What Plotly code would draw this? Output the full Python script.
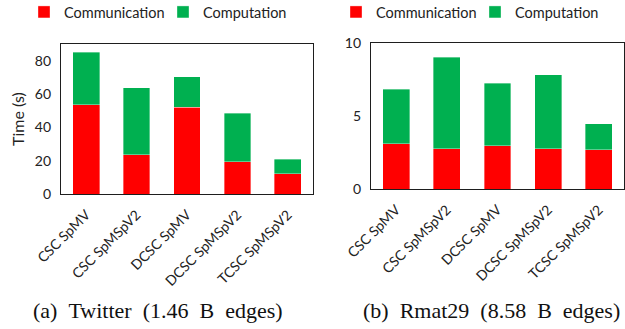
import plotly.graph_objects as go

# Stacked run-time breakdown (seconds) for the two graphs
categories = ["CSC SpMV", "CSC SpMSpV2", "DCSC SpMV", "DCSC SpMSpV2", "TCSC SpMSpV2"]

twitter_comm = [53.6, 23.5, 52.2, 19.3, 12.2]
twitter_comp = [31.4, 40.2, 18.1, 29.1, 8.7]

rmat_comm = [3.09, 2.77, 2.97, 2.77, 2.68]
rmat_comp = [3.77, 6.27, 4.28, 5.08, 1.80]

twitter_ticks = [0, 20, 40, 60, 80]
rmat_ticks = [0, 5, 10]

captions = ["(a)\u2002Twitter\u2002(1.46\u2002B\u2002edges)",
            "(b)\u2002Rmat29\u2002(8.58\u2002B\u2002edges)"]

RED = "#FF0000"
GREEN = "#00B050"
SANS = "Lato, 'Open Sans', sans-serif"
SERIF = "'Liberation Serif', 'Times New Roman', serif"

W, H = 625, 329


def px(x):
    return x / W


def py(y):
    return 1 - y / H


fig = go.Figure()

panels = [
    (twitter_comm, twitter_comp, "x", "y", "legend"),
    (rmat_comm, rmat_comp, "x2", "y2", "legend2"),
]
for comm, comp, xa, ya, lg in panels:
    fig.add_trace(go.Bar(x=categories, y=comm, name="Communication",
                         marker=dict(color=RED, line=dict(color="rgba(255,255,255,0.6)", width=0.6)),
                         xaxis=xa, yaxis=ya, legend=lg))
    fig.add_trace(go.Bar(x=categories, y=comp, name="Computation",
                         marker=dict(color=GREEN, line=dict(color="rgba(255,255,255,0.6)", width=0.6)),
                         xaxis=xa, yaxis=ya, legend=lg))

axis_common = dict(showline=True, mirror=True, linecolor="#1e1e1e", linewidth=1.3,
                   showgrid=False, zeroline=False, ticks="", automargin=False,
                   tickfont=dict(family=SANS, size=14, color="#222"))

legend_common = dict(orientation="h", xanchor="left", yanchor="middle",
                     font=dict(family=SANS, size=14.5, color="#222"), itemwidth=30,
                     traceorder="normal", bgcolor="rgba(0,0,0,0)",
                     entrywidth=94, entrywidthmode="pixels")

fig.update_layout(
    width=W, height=H,
    margin=dict(l=0, r=0, t=0, b=0, autoexpand=False),
    paper_bgcolor="white", plot_bgcolor="white",
    barmode="stack", bargap=0.47,
    xaxis=dict(domain=[px(61), px(313)], anchor="y", tickangle=-45,
               ticklabelstandoff=6, **axis_common),
    yaxis=dict(domain=[py(194), py(44)], anchor="x", range=[0, 90],
               tickvals=twitter_ticks, ticklabelstandoff=6,
               title=dict(text="Time (s)", font=dict(family=SANS, size=16, color="#222"), standoff=6),
               **axis_common),
    xaxis2=dict(domain=[px(371), px(624)], anchor="y2", tickangle=-45,
                ticklabelstandoff=6, **axis_common),
    yaxis2=dict(domain=[py(189), py(43.3)], anchor="x2", range=[0, 10],
                tickvals=rmat_ticks, ticklabelstandoff=6, **axis_common),
    legend=dict(x=px(24), y=py(12), **legend_common),
    legend2=dict(x=px(336), y=py(12), **legend_common),
    showlegend=True,
)

for text, cx in zip(captions, [157.5, 491.5]):
    fig.add_annotation(text=text, x=px(cx), y=py(310), xref="paper", yref="paper",
                       xanchor="center", yanchor="middle", showarrow=False,
                       font=dict(family=SERIF, size=22, color="#111"))

fig.write_html("out.html")
